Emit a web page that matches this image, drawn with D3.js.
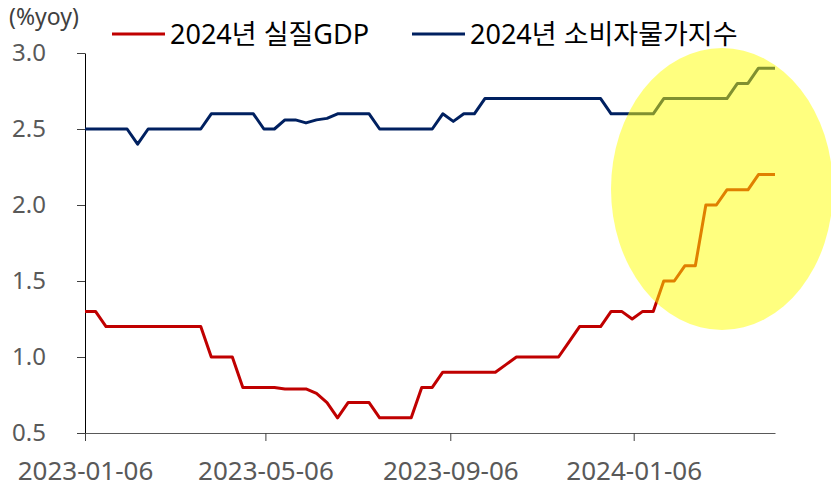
<!DOCTYPE html>
<html>
<head>
<meta charset="utf-8">
<script src="https://cdn.jsdelivr.net/npm/d3@7"></script>
<style>
    html, body { margin: 0; padding: 0; background: #fff; }
    svg { display: block; }
    svg text { font-family: "Noto Sans", "Noto Sans CJK KR", sans-serif; }
</style>
</head>
<body>
<div id="chart"></div>
<script>
// weekly survey dates (last one a few days off the weekly grid)
const dates = [
    '2023-01-06', '2023-01-13', '2023-01-20', '2023-01-27', '2023-02-03', '2023-02-10', '2023-02-17', '2023-02-24',
    '2023-03-03', '2023-03-10', '2023-03-17', '2023-03-24', '2023-03-31', '2023-04-07', '2023-04-14', '2023-04-21',
    '2023-04-28', '2023-05-05', '2023-05-12', '2023-05-19', '2023-05-26', '2023-06-02', '2023-06-09', '2023-06-16',
    '2023-06-23', '2023-06-30', '2023-07-07', '2023-07-14', '2023-07-21', '2023-07-28', '2023-08-04', '2023-08-11',
    '2023-08-18', '2023-08-25', '2023-09-01', '2023-09-08', '2023-09-15', '2023-09-22', '2023-09-29', '2023-10-06',
    '2023-10-13', '2023-10-20', '2023-10-27', '2023-11-03', '2023-11-10', '2023-11-17', '2023-11-24', '2023-12-01',
    '2023-12-08', '2023-12-15', '2023-12-22', '2023-12-29', '2024-01-05', '2024-01-12', '2024-01-19', '2024-01-26',
    '2024-02-02', '2024-02-09', '2024-02-16', '2024-02-23', '2024-03-01', '2024-03-08', '2024-03-15', '2024-03-22',
    '2024-03-29', '2024-04-09'
];

// 2024년 실질GDP 전망
const gdp = [
    1.3, 1.3, 1.2, 1.2, 1.2, 1.2, 1.2, 1.2, 1.2, 1.2, 1.2, 1.2, 1.0, 1.0, 1.0, 0.8,
    0.8, 0.8, 0.8, 0.79, 0.79, 0.79, 0.76, 0.7, 0.6, 0.7, 0.7, 0.7, 0.6, 0.6, 0.6, 0.6,
    0.8, 0.8, 0.9, 0.9, 0.9, 0.9, 0.9, 0.9, 0.95, 1.0, 1.0, 1.0, 1.0, 1.0, 1.1, 1.2,
    1.2, 1.2, 1.3, 1.3, 1.25, 1.3, 1.3, 1.5, 1.5, 1.6, 1.6, 2.0, 2.0, 2.1, 2.1, 2.1,
    2.2, 2.2
];

// 2024년 소비자물가지수 전망
const cpi = [
    2.5, 2.5, 2.5, 2.5, 2.5, 2.4, 2.5, 2.5, 2.5, 2.5, 2.5, 2.5, 2.6, 2.6, 2.6, 2.6,
    2.6, 2.5, 2.5, 2.56, 2.56, 2.54, 2.56, 2.57, 2.6, 2.6, 2.6, 2.6, 2.5, 2.5, 2.5, 2.5,
    2.5, 2.5, 2.6, 2.55, 2.6, 2.6, 2.7, 2.7, 2.7, 2.7, 2.7, 2.7, 2.7, 2.7, 2.7, 2.7,
    2.7, 2.7, 2.6, 2.6, 2.6, 2.6, 2.6, 2.7, 2.7, 2.7, 2.7, 2.7, 2.7, 2.7, 2.8, 2.8,
    2.9, 2.9
];

const seriesNames = ['2024년 실질GDP', '2024년 소비자물가지수'];
const seriesColors = ['#c00000', '#002060'];
const yTicks = [0.5, 1.0, 1.5, 2.0, 2.5, 3.0];
const xTicks = ['2023-01-06', '2023-05-06', '2023-09-06', '2024-01-06'];

const width = 831;
const height = 487;
const parse = d3.timeParse('%Y-%m-%d');

const svg = d3.select('#chart')
    .append('svg')
    .attr('width', width)
    .attr('height', height);

const x = d3.scaleTime()
    .domain([parse(dates[0]), parse(dates[dates.length - 1])])
    .range([85, 775]);

const y = d3.scaleLinear()
    .domain([0.5, 3.0])
    .range([433, 53]);

// y axis
const yAxis = svg.append('g')
    .attr('transform', 'translate(85,0)')
    .call(d3.axisLeft(y).tickValues(yTicks).tickSize(8).tickSizeOuter(0).tickPadding(31).tickFormat(d3.format('.1f')));
yAxis.select('.domain').attr('stroke', '#000');
yAxis.selectAll('.tick line').attr('stroke', '#404040');
yAxis.selectAll('text')
    .attr('fill', '#595959')
    .style('font-size', '24px');

// x axis
const xAxis = svg.append('g')
    .attr('transform', 'translate(0,433)')
    .call(d3.axisBottom(x).tickValues(xTicks.map(parse)).tickSize(8).tickSizeOuter(0).tickPadding(21).tickFormat(d3.timeFormat('%Y-%m-%d')));
xAxis.select('.domain').attr('stroke', '#595959');
xAxis.selectAll('.tick line').attr('stroke', '#404040');
xAxis.selectAll('text')
    .attr('fill', '#595959')
    .style('font-size', '26px');

// lines
const line = d3.line()
    .x((d, i) => x(parse(dates[i])))
    .y(d => y(d));

[gdp, cpi].forEach((values, i) => {
    svg.append('path')
        .datum(values)
        .attr('fill', 'none')
        .attr('stroke', seriesColors[i])
        .attr('stroke-width', 3)
        .attr('stroke-linejoin', 'round')
        .attr('d', line);
});

// highlight ellipse, semi-transparent over the lines
svg.append('ellipse')
    .attr('cx', 722)
    .attr('cy', 189)
    .attr('rx', 111)
    .attr('ry', 141)
    .attr('fill', '#ffff00')
    .attr('fill-opacity', 0.5);

// unit label
svg.append('text')
    .attr('x', 9)
    .attr('y', 25)
    .attr('fill', '#404040')
    .style('font-size', '23px')
    .text('(%yoy)');

// legend
const legendX = [112, 412];
seriesNames.forEach((name, i) => {
    svg.append('line')
        .attr('x1', legendX[i])
        .attr('x2', legendX[i] + 53)
        .attr('y1', 34)
        .attr('y2', 34)
        .attr('stroke', seriesColors[i])
        .attr('stroke-width', 3);
    svg.append('text')
        .attr('x', legendX[i] + 58)
        .attr('y', 44)
        .attr('fill', '#000')
        .style('font-size', '27px')
        .text(name);
});
</script>
</body>
</html>
